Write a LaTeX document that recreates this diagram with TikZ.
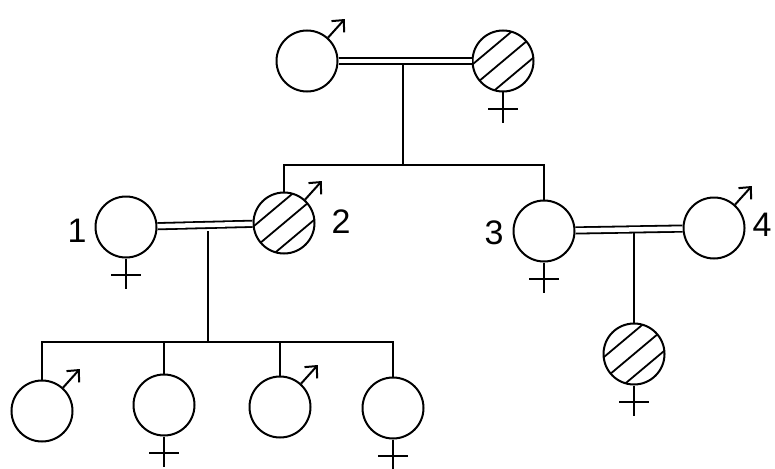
\documentclass[tikz,border=0pt]{standalone}
\usepackage{fontspec}
\setmainfont{Liberation Sans}
\usetikzlibrary{arrows.meta}
\begin{document}
\begin{tikzpicture}[x=1pt,y=-1pt,
  ind/.style={circle,draw,line width=2pt,minimum size=61pt,inner sep=0pt},
  hatched/.style={path picture={\foreach \o in {-17,0,17}{\draw[line width=1.8pt] ([shift={(130:\o pt)},shift={(220:45pt)}]path picture bounding box.center) -- ([shift={(130:\o pt)},shift={(40:45pt)}]path picture bounding box.center);}}},
  ln/.style={line width=2pt},
  marr/.style={line width=1.8pt,double distance=4.5pt},
  lab/.style={font=\fontsize{34}{34}\selectfont,inner sep=0pt}
]
\useasboundingbox (0,0) rectangle (775,468);
\newcommand{\malesym}[1]{\draw[ln,-{Straight Barb[length=9pt,width=17pt]}] (#1.48) -- ++(48:25pt);}
\newcommand{\femsym}[1]{\draw[ln] (#1.south) -- ++(0,30); \draw[ln] ([xshift=-15pt,yshift=-16pt]#1.south) -- ([xshift=15pt,yshift=-16pt]#1.south);}

% generation I
\node[ind] (gf) at (307,61) {};
\node[ind,hatched] (gm) at (503,61) {};
% generation II
\node[ind] (p1) at (126,227) {};
\node[ind,hatched] (p2) at (284,223) {};
\node[ind] (p3) at (544,231) {};
\node[ind] (p4) at (714,228) {};
% generation III
\node[ind] (k1) at (42,411) {};
\node[ind] (k2) at (164,405) {};
\node[ind] (k3) at (280,407) {};
\node[ind] (k4) at (393,408) {};
\node[ind,hatched] (c34) at (634,354) {};

% sex symbols
\malesym{gf} \femsym{gm}
\femsym{p1} \malesym{p2} \femsym{p3} \malesym{p4}
\malesym{k1} \femsym{k2} \malesym{k3} \femsym{k4}
\femsym{c34}

% marriages
\draw[marr] (gf) -- (gm);
\draw[marr] (p1) -- (p2);
\draw[marr] (p3) -- (p4);

% descent lines
\coordinate (m1) at (403,64);
\coordinate (s1) at (403,165);
\draw[ln] (m1) -- (s1);
\draw[ln] (p2.north) -- (p2.north |- s1) -- (p3.north |- s1) -- (p3.north);

\coordinate (m2) at (208,231);
\coordinate (s2) at (208,342);
\draw[ln] (m2) -- (s2);
\draw[ln] (k1.north) -- (k1.north |- s2) -- (k4.north |- s2) -- (k4.north);
\draw[ln] (k2.north) -- (k2.north |- s2);
\draw[ln] (k3.north) -- (k3.north |- s2);

\coordinate (m3) at (634,233);
\draw[ln] (m3) -- (c34.north);

% labels
\node[lab] (l1) at (77,231) {1};
\node[lab] (l2) at (341,222) {2};
\node[lab] (l3) at (494,233) {3};
\node[lab] (l4) at (762,225) {4};
\end{tikzpicture}
\end{document}
